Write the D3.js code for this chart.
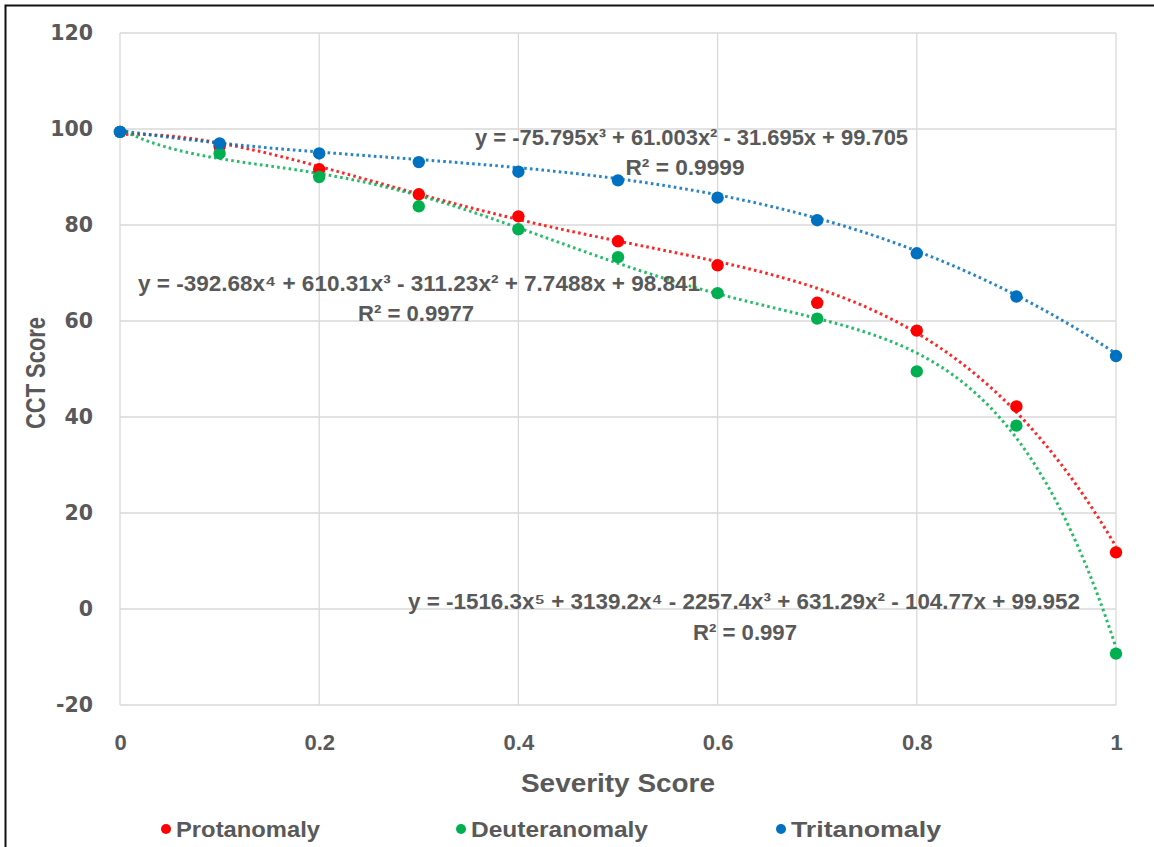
<!DOCTYPE html>
<html>
<head>
<meta charset="utf-8">
<script src="https://cdn.jsdelivr.net/npm/d3@7/dist/d3.min.js"></script>
<style>
  body { margin: 0; background: #fff; }
  svg { display: block; }
</style>
</head>
<body>
<svg id="chart" width="1154" height="847"></svg>
<script>
// Severity score (x) and CCT score (y) for each colour-vision deficiency type
const severity = [0, 0.1, 0.2, 0.3, 0.4, 0.5, 0.6, 0.7, 0.8, 0.9, 1.0];
const protanomaly   = [99.4, 96.4, 91.6, 86.4, 81.8, 76.6, 71.6, 63.8, 58.0, 42.2, 11.8];
const deuteranomaly = [99.4, 94.9, 90.0, 83.9, 79.1, 73.3, 65.8, 60.5, 49.5, 38.2, -9.3];
const tritanomaly   = [99.4, 97.0, 94.9, 93.1, 91.1, 89.3, 85.7, 81.0, 74.1, 65.1, 52.7];

// Polynomial trendline coefficients, highest power first
const protanomalyFit   = [-392.68, 610.31, -311.23, 7.7488, 98.841];
const deuteranomalyFit = [-1516.3, 3139.2, -2257.4, 631.29, -104.77, 99.952];
const tritanomalyFit   = [-75.795, 61.003, -31.695, 99.705];
const rSquared = { protanomaly: "0.9977", deuteranomaly: "0.997", tritanomaly: "0.9999" };

const xTicks = [0, 0.2, 0.4, 0.6, 0.8, 1];
const yTicks = [-20, 0, 20, 40, 60, 80, 100, 120];

const seriesNames = ["Protanomaly", "Deuteranomaly", "Tritanomaly"];
const colors = { Protanomaly: "#ff0000", Deuteranomaly: "#00b050", Tritanomaly: "#0070c0" };

const svg = d3.select("#chart");
const textColor = "#595959";
const font = "'Liberation Sans Narrow', 'Liberation Sans', Arial, sans-serif";

const x = d3.scaleLinear().domain([0, 1]).range([120, 1116]);
const y = d3.scaleLinear().domain([-20, 120]).range([705, 33]);

// outer frame (left and top edges)
svg.append("path")
  .attr("d", "M5.5,847 V5.5 H1154")
  .attr("fill", "none").attr("stroke", "#111").attr("stroke-width", 2);

// gridlines
const grid = svg.append("g");
grid.selectAll("line.h").data(yTicks).join("line")
  .attr("x1", x(0)).attr("x2", x(1))
  .attr("y1", d => y(d)).attr("y2", d => y(d))
  .attr("stroke", "#d9d9d9").attr("stroke-width", 1.3);
grid.selectAll("line.v").data(xTicks).join("line")
  .attr("x1", d => x(d)).attr("x2", d => x(d))
  .attr("y1", y(120)).attr("y2", y(-20))
  .attr("stroke", "#d9d9d9").attr("stroke-width", 1.3);

// y axis labels
const yAxis = d3.axisLeft(y).tickValues(yTicks).tickSize(0).tickPadding(0).tickFormat(d => String(d));
svg.append("g").attr("transform", "translate(93,0)").call(yAxis)
  .call(g => g.select(".domain").remove())
  .selectAll("text")
  .attr("fill", textColor)
  .style("font-family", "'DejaVu Sans', Verdana, sans-serif")
  .style("font-weight", "bold").style("font-size", "20.5px");

// x axis labels
const xAxis = d3.axisBottom(x).tickValues(xTicks).tickSize(0).tickPadding(0).tickFormat(d => String(d));
svg.append("g").attr("transform", "translate(0,734)").call(xAxis)
  .call(g => g.select(".domain").remove())
  .selectAll("text")
  .attr("fill", textColor)
  .style("font-family", font)
  .style("font-weight", "bold").style("font-size", "22px");

// axis titles
svg.append("text")
  .attr("x", x(0.5)).attr("y", 792)
  .attr("text-anchor", "middle")
  .attr("textLength", 194).attr("lengthAdjust", "spacingAndGlyphs")
  .attr("fill", textColor)
  .style("font-family", font).style("font-weight", "bold").style("font-size", "26px")
  .text("Severity Score");

svg.append("text")
  .attr("transform", `translate(45,${(y(120) + y(-20)) / 2 + 4}) rotate(-90)`)
  .attr("text-anchor", "middle")
  .attr("textLength", 112).attr("lengthAdjust", "spacingAndGlyphs")
  .attr("fill", textColor)
  .style("font-family", font).style("font-weight", "bold").style("font-size", "27px")
  .text("CCT Score");

// trendlines
const poly = coefs => t => coefs.reduce((acc, c) => acc * t + c, 0);
const samples = d3.range(0, 1.0001, 0.005);
const line = d3.line().x(d => x(d[0])).y(d => y(d[1])).curve(d3.curveLinear);

const fits = [
  { name: "Protanomaly", coefs: protanomalyFit },
  { name: "Deuteranomaly", coefs: deuteranomalyFit },
  { name: "Tritanomaly", coefs: tritanomalyFit }
];
fits.forEach(f => {
  const fn = poly(f.coefs);
  svg.append("path")
    .attr("d", line(samples.map(t => [t, fn(t)])))
    .attr("fill", "none")
    .attr("stroke", colors[f.name])
    .attr("stroke-width", 3)
    .attr("stroke-dasharray", "2.6 3.2")
    .attr("opacity", 0.85);
});

// data points
const seriesData = {
  Protanomaly: protanomaly,
  Deuteranomaly: deuteranomaly,
  Tritanomaly: tritanomaly
};
seriesNames.forEach(name => {
  svg.append("g").selectAll("circle")
    .data(severity.map((s, i) => [s, seriesData[name][i]]))
    .join("circle")
    .attr("cx", d => x(d[0])).attr("cy", d => y(d[1]))
    .attr("r", 6.2)
    .attr("fill", colors[name]);
});

// trendline equation labels
const supers = { 2: "\u00b2", 3: "\u00b3", 4: "\u2074", 5: "\u2075" };
function equation(coefs) {
  const n = coefs.length - 1;
  return coefs.map((c, i) => {
    const p = n - i;
    const xs = p === 0 ? "" : p === 1 ? "x" : "x" + supers[p];
    const body = String(Math.abs(c)) + xs;
    if (i === 0) return "y = " + (c < 0 ? "-" : "") + body;
    return (c < 0 ? " - " : " + ") + body;
  }).join("");
}

const labels = [
  { text: equation(tritanomalyFit), r2: rSquared.tritanomaly, x0: 475, x1: 908, yEq: 145, yR: 175, rx: 685, rLen: 119 },
  { text: equation(protanomalyFit), r2: rSquared.protanomaly, x0: 138, x1: 700, yEq: 291, yR: 321, rx: 416, rLen: 116 },
  { text: equation(deuteranomalyFit), r2: rSquared.deuteranomaly, x0: 408, x1: 1080, yEq: 609, yR: 640, rx: 745, rLen: 104 }
];
labels.forEach(l => {
  svg.append("text")
    .attr("x", (l.x0 + l.x1) / 2).attr("y", l.yEq)
    .attr("text-anchor", "middle")
    .attr("textLength", l.x1 - l.x0).attr("lengthAdjust", "spacingAndGlyphs")
    .attr("fill", textColor)
    .style("font-family", font).style("font-weight", "bold").style("font-size", "22px")
    .text(l.text);
  svg.append("text")
    .attr("x", l.rx).attr("y", l.yR)
    .attr("text-anchor", "middle")
    .attr("textLength", l.rLen).attr("lengthAdjust", "spacingAndGlyphs")
    .attr("fill", textColor)
    .style("font-family", font).style("font-weight", "bold").style("font-size", "22px")
    .text("R\u00b2 = " + l.r2);
});

// legend
const legendItems = [
  { name: "Protanomaly", x: 166, len: 144 },
  { name: "Deuteranomaly", x: 461, len: 177 },
  { name: "Tritanomaly", x: 781, len: 150 }
];
const legend = svg.append("g");
legendItems.forEach(it => {
  legend.append("circle").attr("cx", it.x).attr("cy", 829).attr("r", 5).attr("fill", colors[it.name]);
  legend.append("text")
    .attr("x", it.x + 10).attr("y", 837)
    .attr("textLength", it.len).attr("lengthAdjust", "spacingAndGlyphs")
    .attr("fill", textColor)
    .style("font-family", font).style("font-weight", "bold").style("font-size", "22px")
    .text(it.name);
});
</script>
</body>
</html>
